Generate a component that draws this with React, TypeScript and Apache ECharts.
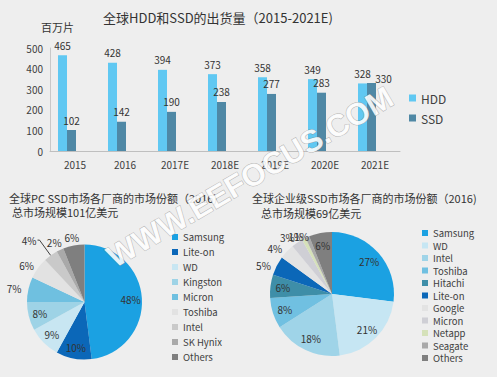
import React, { useEffect, useRef } from 'react';
import * as echarts from 'echarts';

// ---- data ----
const years = ['2015', '2016', '2017E', '2018E', '2019E', '2020E', '2021E'];
const hddValues = [465, 428, 394, 373, 358, 349, 328];
const ssdValues = [102, 142, 190, 238, 277, 283, 330];

const pcVendors = ['Samsung', 'Lite-on', 'WD', 'Kingston', 'Micron', 'Toshiba', 'Intel', 'SK Hynix', 'Others'];
const pcShares = [48, 10, 9, 8, 7, 6, 4, 2, 6];

const entVendors = ['Samsung', 'WD', 'Intel', 'Toshiba', 'Hitachi', 'Lite-on', 'Google', 'Micron', 'Netapp', 'Seagate', 'Others'];
const entShares = [27, 21, 18, 8, 6, 5, 4, 3, 1, 1, 6];

// ---- styles ----
const pcColors = ['#1ba1e2', '#0b67b8', '#c8e6f2', '#9ed3e6', '#6fc0e0', '#e2e2e2', '#c9c9c9', '#a9a9a9', '#7f7f7f'];
const entColors = ['#1ba1e2', '#c6e6f3', '#9fd4e8', '#70c0e1', '#3e8ea8', '#0b67b8', '#e3e3e3', '#cfcfd5', '#d5e1b9', '#a9a9a9', '#7f7f7f'];

type Place = { inside?: boolean; len?: number; len2?: number; dist?: number; line?: boolean };
const pcPlace: Place[] = [
  { inside: true }, { inside: true }, { inside: true }, { inside: true },
  { len: 5, len2: 0, dist: 2 },
  { len: 5, len2: 0, dist: 0 },
  { len: 19, len2: 2, dist: 1, line: true },
  { len: 8, len2: 0, dist: -5 },
  { len: 8, len2: 0, dist: -7 },
];
const entPlace: Place[] = [
  { inside: true }, { inside: true }, { inside: true }, { inside: true }, { inside: true },
  { len: 1, len2: 0, dist: 5 },
  { len: 5, len2: 0, dist: 1 },
  { len: 6, len2: 0, dist: -1 },
  { len: 2, len2: 0, dist: 0 },
  { len: 1, len2: 0, dist: -2 },
  { inside: true },
];

const FONT = "'Noto Sans CJK SC', 'Noto Sans', sans-serif";
const TXT = '#404040';

function pieSeries(names: string[], values: number[], colors: string[], place: Place[], center: number[], r: number) {
  const base = {
    type: 'pie',
    center,
    radius: r,
    startAngle: 90,
    clockwise: true,
    silent: true,
    label: { show: false },
    labelLine: { show: false },
    data: names.map((n, i) => ({ name: n, value: values[i], itemStyle: { color: colors[i] } })),
  };
  const labels = {
    type: 'pie',
    center,
    radius: [r / 2, r],
    startAngle: 90,
    clockwise: true,
    silent: true,
    avoidLabelOverlap: false,
    minShowLabelAngle: 0,
    labelLayout: { hideOverlap: false },
    itemStyle: { color: 'transparent' },
    data: names.map((n, i) => {
      const p = place[i];
      return {
        name: n,
        value: values[i],
        itemStyle: { color: 'transparent' },
        label: {
          show: true,
          position: p.inside ? 'inside' : 'outside',
          formatter: '{c}%',
          fontSize: 10,
          color: '#333',
          fontFamily: FONT,
          overflow: 'none',
          distanceToLabelLine: p.dist ?? 5,
        },
        labelLine: {
          show: !!p.line,
          length: p.len ?? 0,
          length2: p.len2 ?? 0,
          lineStyle: { color: '#404040', width: 1 },
        },
      };
    }),
  };
  return [base, labels];
}

export default function App() {
  const ref = useRef<HTMLDivElement>(null);
  useEffect(() => {
    if (!ref.current) return;
    const chart = echarts.init(ref.current, undefined, { renderer: 'svg' });
    const titleStyle = { fontSize: 11, fontWeight: 'normal', color: '#333', fontFamily: FONT };
    const option: any = {
      animation: false,
      backgroundColor: '#eeeeee',
      textStyle: { fontFamily: FONT },
      title: [
        { text: '全球HDD和SSD的出货量（2015-2021E)', left: 103, top: 11, padding: 0, textStyle: { ...titleStyle, fontSize: 13 } },
        { text: '百万片', left: 41, top: 21, padding: 0, textStyle: titleStyle },
        { text: '全球PC SSD市场各厂商的市场份额（2016)', left: 9, top: 192, padding: 0, textStyle: titleStyle },
        { text: '总市场规模101亿美元', left: 12, top: 206, padding: 0, textStyle: titleStyle },
        { text: '全球企业级SSD市场各厂商的市场份额（2016)', left: 252, top: 192, padding: 0, textStyle: titleStyle },
        { text: '总市场规模69亿美元', left: 261, top: 207, padding: 0, textStyle: titleStyle },
      ],
      legend: [
        {
          data: ['HDD', 'SSD'], orient: 'vertical', left: 409, top: 92, itemWidth: 7, itemHeight: 7, itemGap: 8, itemTextGap: 3,
          icon: 'rect', selectedMode: false, padding: 0,
          textStyle: { fontSize: 12, lineHeight: 12, color: TXT, fontFamily: FONT },
        },
        {
          data: pcVendors.map((n, i) => ({ name: n, itemStyle: { color: pcColors[i] } })),
          orient: 'vertical', left: 172, top: 231, itemWidth: 6, itemHeight: 6, itemGap: 3, itemTextGap: 5,
          icon: 'rect', selectedMode: false, padding: 0,
          textStyle: { fontSize: 9.5, lineHeight: 12, color: TXT, fontFamily: FONT },
        },
        {
          data: entVendors.map((n, i) => ({ name: n, itemStyle: { color: entColors[i] } })),
          orient: 'vertical', left: 422, top: 227, itemWidth: 6, itemHeight: 6, itemGap: 0.5, itemTextGap: 4,
          icon: 'rect', selectedMode: false, padding: 0,
          textStyle: { fontSize: 9.5, lineHeight: 12, color: TXT, fontFamily: FONT },
        },
      ],
      grid: [
        { left: 50, top: 48, width: 350, height: 103 },
        { left: 42, top: 48, width: 350, height: 103 },
      ],
      xAxis: [
        {
          type: 'category', gridIndex: 0, data: years,
          axisLine: { lineStyle: { color: '#bfbfbf' } }, axisTick: { show: false },
          axisLabel: { fontSize: 10, color: TXT, margin: 8, fontFamily: FONT },
        },
        { type: 'category', gridIndex: 1, data: years, show: false },
      ],
      yAxis: [
        {
          type: 'value', gridIndex: 0, min: 0, max: 500, interval: 100,
          axisLine: { show: true, lineStyle: { color: '#c8c8c8' } }, axisTick: { show: false },
          splitLine: { show: false },
          axisLabel: { fontSize: 10, color: TXT, margin: 7, fontFamily: FONT },
        },
        { type: 'value', gridIndex: 1, min: 0, max: 500, show: false, splitLine: { show: false } },
      ],
      series: [
        {
          name: 'HDD', type: 'bar', xAxisIndex: 1, yAxisIndex: 1, data: hddValues,
          barWidth: 9, barGap: 0, itemStyle: { color: '#60c8f2' },
          label: { show: true, position: 'top', distance: 5, fontSize: 10, color: '#333', fontFamily: FONT },
        },
        {
          name: 'SSD', type: 'bar', xAxisIndex: 1, yAxisIndex: 1,
          data: ssdValues.map((v, i) => (i === ssdValues.length - 1 ? { value: v, label: { offset: [12, 5] } } : v)),
          barWidth: 9, barGap: 0, itemStyle: { color: '#4f88a5' },
          label: { show: true, position: 'top', distance: 5, fontSize: 10, color: '#333', fontFamily: FONT },
        },
        ...pieSeries(pcVendors, pcShares, pcColors, pcPlace, [84.5, 302], 57.5),
        ...pieSeries(entVendors, entShares, entColors, entPlace, [332, 294], 62),
      ],
      graphic: [
        {
          type: 'text', x: 250, y: 177, rotation: 0.53, z: 100, silent: true,
          style: {
            text: 'WWW.EEFOCUS.COM',
            fill: 'rgba(255,255,255,0.9)',
            stroke: 'rgba(120,120,120,0.5)',
            lineWidth: 1,
            fontSize: 31,
            fontWeight: 'bold',
            fontFamily: "'Liberation Sans', Arial, sans-serif",
            align: 'center',
            verticalAlign: 'middle',
          },
        },
      ],
    };
    chart.setOption(option);
    return () => chart.dispose();
  }, []);
  return <div ref={ref} style={{ position: 'absolute', left: 0, top: 0, width: 497, height: 377 }} />;
}
